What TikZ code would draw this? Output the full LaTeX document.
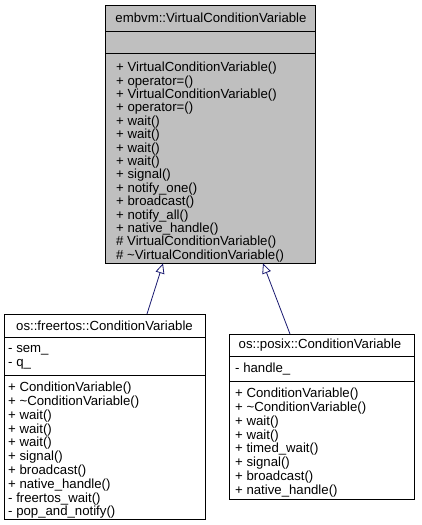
\documentclass[tikz,border=0pt]{standalone}
\usepackage{fontspec}
\setmainfont{Liberation Sans}
\usetikzlibrary{arrows.meta}
\definecolor{edgeblue}{HTML}{191970}
\definecolor{boxgray}{HTML}{BFBFBF}
\begin{document}
\begin{tikzpicture}[x=1pt,y=-1pt,
  txt/.style={font=\fontsize{13.2}{13.8}\selectfont,inner sep=0pt,align=left,anchor=north west},
  txttop/.style={txt,font=\fontsize{13.2}{13.4}\selectfont},
  hdr/.style={font=\fontsize{13.2}{13.8}\selectfont,inner sep=0pt,anchor=center},
  part/.style={draw=black,line width=0.8pt},
  inh/.style={draw=edgeblue,line width=0.8pt,-{Triangle[open,length=10pt,width=9pt,fill=white]}}]
\useasboundingbox (0,0) rectangle (421,525);
% top class
\path[part,fill=boxgray] (105,5) rectangle (315,31);
\path[part,fill=boxgray] (105,31) rectangle (315,53);
\path[part,fill=boxgray] (105,53) rectangle (315,263);
\node[draw=none,minimum width=210pt,minimum height=258pt,anchor=north west,inner sep=0pt] (base) at (105,5) {};
\node[hdr] (baseh) at (211,18) {embvm::VirtualConditionVariable};
\node[txttop] (basem) at (116,62) {+ VirtualConditionVariable()\\+ operator=()\\+ VirtualConditionVariable()\\+ operator=()\\+ wait()\\+ wait()\\+ wait()\\+ wait()\\+ signal()\\+ notify\_one()\\+ broadcast()\\+ notify\_all()\\+ native\_handle()\\\# VirtualConditionVariable()\\\# \textasciitilde VirtualConditionVariable()};
% freertos class
\path[part,fill=white] (4,314) rectangle (205,337);
\path[part,fill=white] (4,337) rectangle (205,375);
\path[part,fill=white] (4,375) rectangle (205,519);
\node[draw=none,minimum width=201pt,minimum height=205pt,anchor=north west,inner sep=0pt] (fr) at (4,314) {};
\node[hdr] (frh) at (104.5,325.5) {os::freertos::ConditionVariable};
\node[txt] (fra) at (8,345) {- sem\_\\- q\_};
\node[txt] (frm) at (8,382) {+ ConditionVariable()\\+ \textasciitilde ConditionVariable()\\+ wait()\\+ wait()\\+ wait()\\+ signal()\\+ broadcast()\\+ native\_handle()\\- freertos\_wait()\\- pop\_and\_notify()};
% posix class
\path[part,fill=white] (229,334) rectangle (414,356);
\path[part,fill=white] (229,356) rectangle (414,381);
\path[part,fill=white] (229,381) rectangle (414,499);
\node[draw=none,minimum width=185pt,minimum height=165pt,anchor=north west,inner sep=0pt] (px) at (229,334) {};
\node[hdr] (pxh) at (320,345) {os::posix::ConditionVariable};
\node[txt] (pxa) at (235,363) {- handle\_};
\node[txt] (pxm) at (235,388) {+ ConditionVariable()\\+ \textasciitilde ConditionVariable()\\+ wait()\\+ wait()\\+ timed\_wait()\\+ signal()\\+ broadcast()\\+ native\_handle()};
% inheritance
\coordinate (frtop) at (147,314);
\coordinate (baseL) at (163,263.4);
\coordinate (pxtop) at (290,334);
\coordinate (baseR) at (263,263.4);
\draw[inh] (frtop) -- (baseL);
\draw[inh] (pxtop) -- (baseR);
\end{tikzpicture}
\end{document}
